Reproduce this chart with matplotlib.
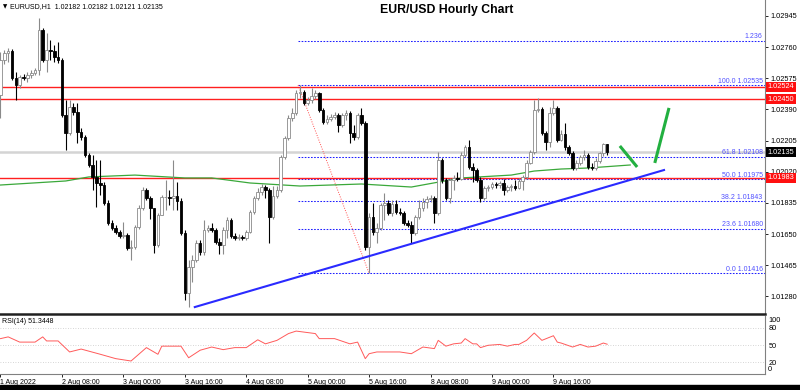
import numpy as np
import matplotlib
matplotlib.use('Agg')
import matplotlib.pyplot as plt
from matplotlib.transforms import blended_transform_factory
from matplotlib.patches import Rectangle

plt.rcParams['font.family'] = ['Liberation Sans', 'DejaVu Sans']

# EURUSD H1 bars, 1 Aug 16:00 .. 10 Aug 06:00 (open = previous close)
first_open = 1.02476
closes = [
    1.02684, 1.02725, 1.02737, 1.02577, 1.02535, 1.02583, 1.02577, 1.02595, 1.02606, 1.02624,
    1.02862, 1.02684, 1.02743, 1.02737, 1.02701, 1.02684, 1.02357, 1.02250, 1.02404, 1.02375,
    1.02256, 1.02226, 1.02119, 1.02060, 1.01989, 1.01953, 1.01941, 1.01834, 1.01715, 1.01686,
    1.01662, 1.01638, 1.01644, 1.01567, 1.01573, 1.01692, 1.01804, 1.01911, 1.01864, 1.01804,
    1.01585, 1.01763, 1.01870, 1.01870, 1.01864, 1.01876, 1.01846, 1.01656, 1.01300, 1.01454,
    1.01496, 1.01597, 1.01543, 1.01674, 1.01686, 1.01674, 1.01603, 1.01585, 1.01674, 1.01733,
    1.01638, 1.01626, 1.01632, 1.01626, 1.01662, 1.01781, 1.01864, 1.01900, 1.01929, 1.01911,
    1.01751, 1.01876, 1.01911, 1.02107, 1.02220, 1.02339, 1.02369, 1.02488, 1.02494, 1.02428,
    1.02446, 1.02470, 1.02488, 1.02387, 1.02315, 1.02333, 1.02345, 1.02357, 1.02298, 1.02357,
    1.02369, 1.02250, 1.02226, 1.02357, 1.02309, 1.01573, 1.01751, 1.01662, 1.01686, 1.01822,
    1.01834, 1.01775, 1.01828, 1.01781, 1.01775, 1.01715, 1.01704, 1.01656, 1.01751, 1.01804,
    1.01840, 1.01858, 1.01864, 1.01775, 1.02090, 1.01971, 1.01864, 1.01971, 1.01983, 1.01977,
    1.02119, 1.02167, 1.02048, 1.02030, 1.01971, 1.01864, 1.01923, 1.01929, 1.01947, 1.01941,
    1.01953, 1.01911, 1.01929, 1.01935, 1.01923, 1.01965, 1.01989, 1.02072, 1.02137, 1.02387,
    1.02393, 1.02250, 1.02197, 1.02369, 1.02399, 1.02208, 1.02244, 1.02167, 1.02131, 1.02042,
    1.02072, 1.02107, 1.02119, 1.02048, 1.02042, 1.02084, 1.02131, 1.02182, 1.02135,
]
highs = [
    1.02731, 1.02743, 1.02755, 1.02749, 1.02612, 1.02595, 1.02600, 1.02612, 1.02624, 1.02636,
    1.02933, 1.02874, 1.02844, 1.02802, 1.02773, 1.02791, 1.02696, 1.02446, 1.02446, 1.02428,
    1.02428, 1.02280, 1.02238, 1.02131, 1.02119, 1.02090, 1.02090, 1.01959, 1.01852, 1.01733,
    1.01704, 1.01674, 1.01721, 1.01656, 1.01614, 1.01704, 1.01822, 1.01929, 1.01923, 1.01876,
    1.01804, 1.01775, 1.01882, 1.01971, 1.01911, 1.02090, 1.01959, 1.01864, 1.01674, 1.01496,
    1.01525, 1.01614, 1.01614, 1.01733, 1.01704, 1.01715, 1.01686, 1.01626, 1.01692, 1.01751,
    1.01745, 1.01656, 1.01650, 1.01644, 1.01674, 1.01793, 1.01876, 1.01923, 1.01947, 1.01941,
    1.01923, 1.01935, 1.01935, 1.02119, 1.02232, 1.02357, 1.02399, 1.02505, 1.02535, 1.02505,
    1.02464, 1.02517, 1.02505, 1.02494, 1.02399, 1.02357, 1.02363, 1.02375, 1.02369, 1.02369,
    1.02387, 1.02381, 1.02298, 1.02369, 1.02399, 1.02321, 1.01775, 1.01834, 1.01715, 1.01834,
    1.01894, 1.01852, 1.01852, 1.01852, 1.01804, 1.01787, 1.01733, 1.01727, 1.01763, 1.01852,
    1.01864, 1.01876, 1.01882, 1.01876, 1.02137, 1.02101, 1.01983, 1.01983, 1.02000, 1.02018,
    1.02137, 1.02179, 1.02208, 1.02072, 1.02042, 1.01989, 1.01935, 1.01941, 1.01959, 1.01959,
    1.01965, 1.01977, 1.01941, 1.01947, 1.01971, 1.01983, 1.02000, 1.02090, 1.02149, 1.02446,
    1.02458, 1.02404, 1.02262, 1.02404, 1.02446, 1.02410, 1.02268, 1.02309, 1.02179, 1.02143,
    1.02090, 1.02119, 1.02149, 1.02131, 1.02072, 1.02101, 1.02137, 1.02191, 1.02182,
]
lows = [
    1.02339, 1.02660, 1.02672, 1.02565, 1.02446, 1.02517, 1.02565, 1.02553, 1.02577, 1.02595,
    1.02595, 1.02672, 1.02612, 1.02684, 1.02672, 1.02666, 1.02345, 1.02149, 1.02238, 1.02357,
    1.02191, 1.02208, 1.02107, 1.02048, 1.01911, 1.01810, 1.01882, 1.01822, 1.01704, 1.01674,
    1.01650, 1.01626, 1.01626, 1.01555, 1.01496, 1.01561, 1.01680, 1.01793, 1.01852, 1.01739,
    1.01537, 1.01573, 1.01763, 1.01793, 1.01822, 1.01793, 1.01793, 1.01644, 1.01258, 1.01216,
    1.01365, 1.01484, 1.01525, 1.01525, 1.01662, 1.01662, 1.01591, 1.01531, 1.01531, 1.01626,
    1.01626, 1.01614, 1.01614, 1.01614, 1.01614, 1.01656, 1.01769, 1.01852, 1.01882, 1.01864,
    1.01597, 1.01739, 1.01864, 1.01900, 1.02096, 1.02208, 1.02321, 1.02357, 1.02458, 1.02416,
    1.02416, 1.02428, 1.02452, 1.02375, 1.02303, 1.02303, 1.02321, 1.02333, 1.02256, 1.02286,
    1.02327, 1.02191, 1.02208, 1.02214, 1.02298, 1.01555, 1.01416, 1.01644, 1.01597, 1.01674,
    1.01733, 1.01763, 1.01757, 1.01769, 1.01763, 1.01704, 1.01692, 1.01597, 1.01644, 1.01739,
    1.01787, 1.01804, 1.01840, 1.01715, 1.01763, 1.01953, 1.01852, 1.01834, 1.01911, 1.01965,
    1.01971, 1.02107, 1.02036, 1.01959, 1.01959, 1.01840, 1.01852, 1.01905, 1.01917, 1.01923,
    1.01923, 1.01882, 1.01900, 1.01905, 1.01911, 1.01917, 1.01911, 1.01977, 1.02066, 1.02125,
    1.02375, 1.02238, 1.02149, 1.02167, 1.02357, 1.02197, 1.02203, 1.02149, 1.02119, 1.02030,
    1.02030, 1.02060, 1.02090, 1.02036, 1.02030, 1.02030, 1.02072, 1.02113, 1.02121,
]

# moving average (green), read at a few bars
ma_bars = [0, 17, 23, 35, 48, 55, 65, 78, 94, 107, 120, 133, 139, 146, 153, 164]
ma_vals = [1.01941, 1.01965, 1.01989, 1.02000, 1.01983, 1.01983, 1.01953, 1.01935,
           1.01947, 1.01929, 1.01983, 1.02000, 1.02024, 1.02036, 1.02042, 1.02060]

# RSI(14)
rsi_bars = [0, 2, 5, 9, 11, 12, 15, 18, 21, 26, 30, 34, 38, 41, 42, 47, 49, 52, 55, 58,
            61, 64, 67, 69, 72, 75, 77, 82, 83, 87, 91, 93, 95, 96, 98, 104, 107, 110, 113,
            114, 116, 118, 120, 121, 123, 124, 125, 127, 130, 132, 134, 135, 137, 139, 141,
            144, 145, 146, 149, 151, 153, 155, 157, 158]
rsi_vals = [61, 64, 55, 55, 64, 57, 57, 38, 43, 34, 26.5, 22.4, 45.5, 34, 48, 48, 28, 41,
            46.5, 42, 45.5, 45.5, 59, 52, 58, 69.7, 74, 69.7, 61, 61, 52, 55, 26.5, 35, 38,
            38, 35, 46.5, 43.8, 58, 48, 52, 53.4, 61, 52, 52, 45.5, 49.5, 51, 48, 51, 51, 58,
            70.7, 58, 66, 55, 53.4, 46.5, 51, 46.5, 48, 53.4, 51.34]

price_ticks = [1.01280, 1.01465, 1.01650, 1.01835, 1.02020, 1.02205, 1.02390, 1.02575,
               1.02760, 1.02945]
red_levels = [1.02524, 1.02450, 1.01983]
last_price = 1.02135

# fibonacci from bar 78 high to bar 96 low
fib_start, fib_end = 78, 96
fib_high, fib_low = 1.02535, 1.01416
fib_ratios = [1.236, 1.0, 0.618, 0.5, 0.382, 0.236, 0.0]
fib_texts = ['1.236', '100.0 1.02535', '61.8 1.02108', '50.0 1.01975',
             '38.2 1.01843', '23.6 1.01680', '0.0 1.01416']

trend_x = [50.6, 172.8]
trend_y = [1.01216, 1.02030]
arrow1_x, arrow1_y = [161.3, 165.8], [1.02173, 1.02048]
arrow2_x, arrow2_y = [170.4, 174.1], [1.02072, 1.02399]

time_ticks = [0, 16, 32, 48, 64, 80, 96, 112, 128, 144]
time_labels = ['1 Aug 2022', '2 Aug 08:00', '3 Aug 00:00', '3 Aug 16:00', '4 Aug 08:00',
               '5 Aug 00:00', '5 Aug 16:00', '8 Aug 08:00', '9 Aug 00:00', '9 Aug 16:00']

W, H = 800, 390
fig = plt.figure(figsize=(8, 3.9), dpi=100)
ax = fig.add_axes([0, 1 - 314 / H, 765 / W, 314 / H])
rsi_ax = fig.add_axes([0, 1 - 374 / H, 765 / W, 58 / H])
x_lim = (-0.13, 199.1)

# main chart
ax.set_xlim(*x_lim)
ax.set_ylim(1.011748, 1.03040)
for s in ['top', 'left']:
    ax.spines[s].set_visible(False)
ax.spines['right'].set_color('#808080')
ax.spines['right'].set_linewidth(0.8)
ax.spines['bottom'].set_color('#202020')
ax.spines['bottom'].set_linewidth(1.8)
ax.set_xticks([])
ax.yaxis.tick_right()
ax.set_yticks(price_ticks)
ax.set_yticklabels([f'{p:.5f}' for p in price_ticks])
ax.tick_params(axis='y', length=2.5, width=0.6, labelsize=5.3, pad=1.5)

ax.axhline(last_price, color='#d4d4d4', lw=1.8, zorder=1)
for lv in red_levels:
    ax.axhline(lv, color='#ff2020', lw=1.0, zorder=3)

fib_rng = fib_high - fib_low
for r, t in zip(fib_ratios, fib_texts):
    p = fib_low + r * fib_rng
    ax.plot([fib_start - 0.5, x_lim[1]], [p, p], color='#2020ff', lw=0.75,
            ls=(0, (1.6, 1.4)), zorder=2)
    ax.text(198.5, p + 0.00003, t, color='#5050ff', fontsize=5, ha='right',
            va='bottom', zorder=7)
ax.plot([fib_start - 0.5, fib_end], [fib_high, fib_low], color='#ff5050', lw=0.7,
        ls=(0, (1, 1.5)), zorder=2)

ax.plot(ma_bars, ma_vals, color='#3aa83a', lw=0.9, zorder=3)

opens = [first_open] + closes[:-1]
for i in range(len(closes)):
    o, c, h, l = opens[i], closes[i], highs[i], lows[i]
    up = c >= o
    col = '#8a8a8a' if up else 'black'
    ax.vlines(i, l, h, color=col, lw=0.8, zorder=4)
    ax.bar(i, abs(c - o), bottom=min(o, c), width=0.68,
           color='white' if up else 'black', edgecolor=col, lw=0.6, zorder=5)

ax.plot(trend_x, trend_y, color='#2a2aff', lw=1.5, zorder=6)
ax.plot(arrow1_x, arrow1_y, color='#22b040', lw=2.2, solid_capstyle='butt', zorder=6)
ax.plot(arrow2_x, arrow2_y, color='#22b040', lw=2.2, solid_capstyle='butt', zorder=6)

tr = blended_transform_factory(ax.transAxes, ax.transData)
for lv in red_levels:
    ax.text(1.003, lv, f'{lv:.5f}', transform=tr, color='white', fontsize=5.3,
            va='center', ha='left', clip_on=False, zorder=10,
            bbox=dict(boxstyle='square,pad=0.22', fc='#ff1010', ec='none'))
ax.text(1.003, last_price, f'{last_price:.5f}', transform=tr, color='white', fontsize=5.3,
        va='center', ha='left', clip_on=False, zorder=10,
        bbox=dict(boxstyle='square,pad=0.22', fc='black', ec='none'))

fig.text(3 / W, 1 - 7 / H, '\u25bc', fontsize=4, va='center', ha='left',
         family='DejaVu Sans')
fig.text(10 / W, 1 - 7 / H, 'EURUSD,H1  1.02182 1.02182 1.02121 1.02135',
         fontsize=5, va='center', ha='left')
fig.text(447 / W, 1 - 10 / H, 'EUR/USD Hourly Chart', fontsize=8.8,
         fontweight='bold', ha='center', va='center')

# RSI window
rsi_ax.set_xlim(*x_lim)
rsi_ax.set_ylim(0, 100)
for s in ['top', 'left']:
    rsi_ax.spines[s].set_visible(False)
rsi_ax.spines['right'].set_color('#808080')
rsi_ax.spines['right'].set_linewidth(0.8)
rsi_ax.spines['bottom'].set_color('#808080')
rsi_ax.spines['bottom'].set_linewidth(0.8)
for lv in [20, 50, 80]:
    rsi_ax.axhline(lv, color='#c8c8c8', lw=0.6, ls=(0, (1, 2)))
rsi_ax.plot(rsi_bars, rsi_vals, color='#ff5a5a', lw=0.7)
rsi_ax.text(0.5, 97, 'RSI(14) 51.3448', fontsize=5, va='top', ha='left')
rsi_ax.yaxis.tick_right()
rsi_ax.set_yticks([20, 50, 80])
rsi_ax.tick_params(axis='y', length=0, labelsize=5.3, pad=2.5)
rt = blended_transform_factory(rsi_ax.transAxes, rsi_ax.transData)
rsi_ax.text(1.004, 99, '100', transform=rt, fontsize=5.3, va='top', ha='left', clip_on=False)
rsi_ax.text(1.004, 1, '0', transform=rt, fontsize=5.3, va='bottom', ha='left', clip_on=False)
rsi_ax.set_xticks(time_ticks)
rsi_ax.set_xticklabels(time_labels, ha='left')
rsi_ax.tick_params(axis='x', length=2.5, width=0.6, labelsize=5, pad=1)

fig.patches.append(Rectangle((0, 0), 1, 5 / H, transform=fig.transFigure,
                             color='black', zorder=0))

fig.savefig('out.png', dpi=100)
